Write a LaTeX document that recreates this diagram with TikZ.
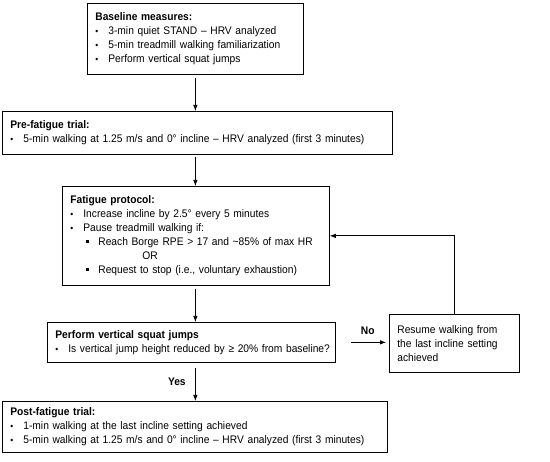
\documentclass[tikz,border=0pt]{standalone}
\usepackage{fontspec}
\setmainfont{Liberation Sans}[FakeStretch=0.93]
\usetikzlibrary{arrows.meta,positioning,calc}
\tikzset{every picture/.style={line width=0.75pt}}
\newcommand{\bul}{\makebox[13pt][l]{\small•}}
\newcommand{\sbul}{\hspace{16pt}\makebox[12pt][l]{\raisebox{2.5pt}{\rule{3pt}{3pt}}}}

\begin{document}
\begin{tikzpicture}[x=1pt,y=-1pt,
    box/.style={draw, anchor=north west, align=left, inner xsep=8pt, inner ysep=3pt,
        font=\fontsize{11}{14}\selectfont},
    arr/.style={-{Latex[length=6pt,width=4.5pt]}},
    lbl/.style={font=\fontsize{11}{14}\selectfont\bfseries}]
    \useasboundingbox (0,0) rectangle (550,462);

    % 流程框
    \node[box, minimum width=216pt, minimum height=71pt, text width=200pt] (baseline) at (87,3)
        {\textbf{Baseline measures:}\\
         \bul 3-min quiet STAND -- HRV analyzed\\
         \bul 5-min treadmill walking familiarization\\
         \bul Perform vertical squat jumps};
    \node[box, minimum width=390pt, minimum height=43pt, text width=374pt] (pre) at (2,111)
        {\textbf{Pre-fatigue trial:}\\
         \bul 5-min walking at 1.25 m/s and 0° incline -- HRV analyzed (first 3 minutes)};
    \node[box, minimum width=267pt, minimum height=99pt, text width=251pt] (fatigue) at (62,186)
        {\textbf{Fatigue protocol:}\\
         \bul Increase incline by 2.5° every 5 minutes\\
         \bul Pause treadmill walking if:\\
         \sbul Reach Borge RPE > 17 and \textasciitilde85\% of max HR\\
         \hspace{72pt}OR\\
         \sbul Request to stop (i.e., voluntary exhaustion)};
    \node[box, minimum width=288pt, minimum height=40pt, text width=272pt] (squat) at (47,322)
        {\textbf{Perform vertical squat jumps}\\
         \mbox{\bul Is vertical jump height reduced by ≥ 20\% from baseline?}};
    \node[box, minimum width=130pt, minimum height=58pt, text width=114pt] (resume) at (389,314)
        {Resume walking from\\ the last incline setting\\ achieved};
    \node[box, minimum width=385pt, minimum height=51pt, text width=369pt] (post) at (2,401)
        {\textbf{Post-fatigue trial:}\\
         \bul 1-min walking at the last incline setting achieved\\
         \bul 5-min walking at 1.25 m/s and 0° incline -- HRV analyzed (first 3 minutes)};

    % 箭头
    \draw[arr, shorten <=3pt] (baseline.south) -- (baseline.south |- pre.north);
    \draw[arr, shorten <=2pt] (baseline.south |- pre.south) -- (baseline.south |- fatigue.north);
    \draw[arr, shorten <=3pt] (baseline.south |- fatigue.south) -- (baseline.south |- squat.north);
    \draw[arr, shorten <=5pt] (baseline.south |- squat.south) -- (baseline.south |- post.north)
        node[lbl, midway, left=6pt] {Yes};
    \draw[arr, shorten <=15pt, shorten >=3pt] (squat.east) -- (resume.west |- squat.east)
        node[lbl, pos=0.6, above=4pt] {No};
    \draw[arr] (resume.north) |- (fatigue.east);
\end{tikzpicture}
\end{document}
